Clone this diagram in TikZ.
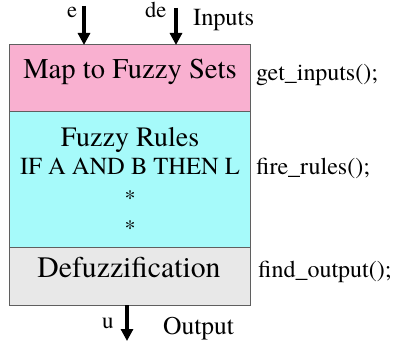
\documentclass[tikz,border=0pt]{standalone}
\usepackage{fontspec}
\setmainfont{texgyretermes}[Extension=.otf,UprightFont=*-regular,BoldFont=*-bold,ItalicFont=*-italic,BoldItalicFont=*-bolditalic]
\usetikzlibrary{arrows.meta}
\definecolor{pinkfill}{RGB}{249,176,208}
\definecolor{cyanfill}{RGB}{166,250,250}
\definecolor{grayfill}{RGB}{232,232,232}
\definecolor{edgegray}{RGB}{95,95,95}
\begin{document}
\begin{tikzpicture}[x=1pt,y=-1pt,
  layer/.style={draw=edgegray,line width=1pt,minimum width=241pt,inner sep=0pt,outer sep=0pt,anchor=north west},
  lbl/.style={inner sep=0pt,anchor=base west},
  clbl/.style={inner sep=0pt,anchor=base},
  bigarrow/.style={line width=3.2pt,-{Triangle[width=12pt,length=12pt]}}]
\useasboundingbox (0,0) rectangle (396,347);
% layers
\node[layer,fill=pinkfill,minimum height=67pt] (map) at (9,45) {};
\node[layer,fill=cyanfill,minimum height=136pt] (rules) at (9,112) {};
\node[layer,fill=grayfill,minimum height=57pt] (defuzz) at (9,248) {};
% texts in layers
\node[clbl,font=\fontsize{28.6}{30}\selectfont] (tmap) at (130,79) {Map to Fuzzy Sets};
\node[clbl,font=\fontsize{28}{30}\selectfont] (trules) at (130,146.5) {Fuzzy Rules};
\node[clbl,font=\fontsize{24.5}{26}\selectfont] (tif) at (130,175) {IF A AND B THEN L};
\node[inner sep=0pt,font=\fontsize{22}{24}\selectfont] (s1) at (130,198) {*};
\node[inner sep=0pt,font=\fontsize{22}{24}\selectfont] (s2) at (130,228) {*};
\node[clbl,font=\fontsize{29.7}{31}\selectfont] (tdef) at (129,277) {Defuzzification};
% right labels
\node[lbl,font=\fontsize{24}{25}\selectfont] (gi) at (256,81) {get\_inputs();};
\node[lbl,font=\fontsize{24}{25}\selectfont] (fr) at (256,175) {fire\_rules();};
\node[lbl,font=\fontsize{24}{25}\selectfont] (fo) at (258,277) {find\_output();};
% inputs and output
\coordinate (ein) at (84,6);
\coordinate (dein) at (176,8);
\coordinate (uout) at (127,341);
\draw[bigarrow] (ein) -- (ein |- map.north);
\draw[bigarrow] (dein) -- (dein |- map.north);
\draw[bigarrow] (uout |- defuzz.south) -- (uout);
\node[lbl,font=\fontsize{22.5}{24}\selectfont] (te) at (67,18) {e};
\node[lbl,font=\fontsize{22.5}{24}\selectfont] (tde) at (145,18) {de};
\node[lbl,font=\fontsize{24.5}{26}\selectfont] (tin) at (193,26) {Inputs};
\node[lbl,font=\fontsize{23}{24}\selectfont] (tu) at (102,328) {u};
\node[lbl,font=\fontsize{25.5}{27}\selectfont] (tout) at (163,334) {Output};
\end{tikzpicture}
\end{document}
